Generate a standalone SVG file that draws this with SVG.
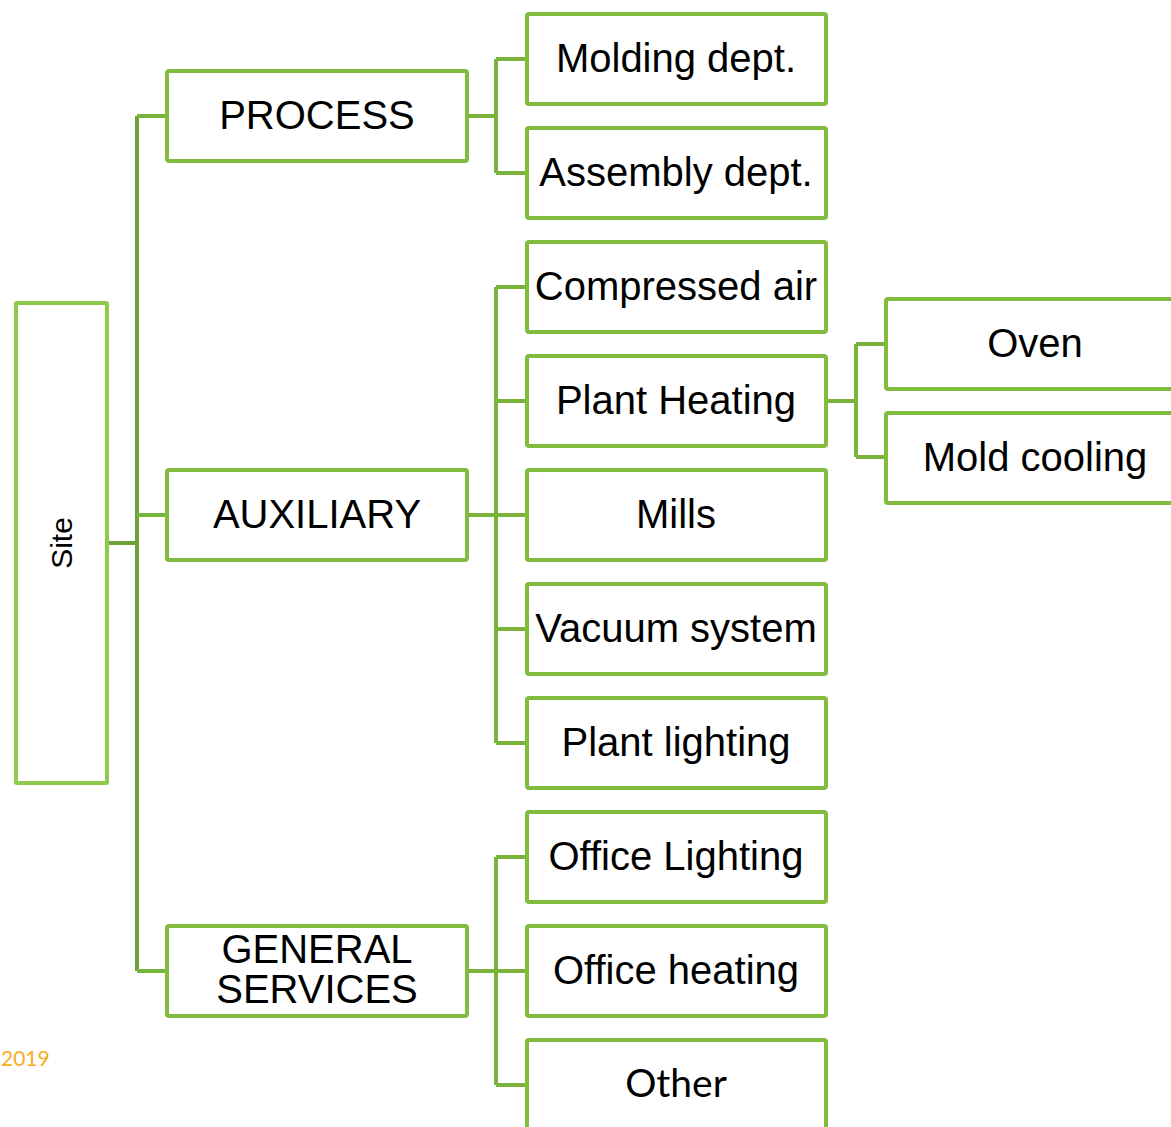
<svg xmlns="http://www.w3.org/2000/svg" width="1171" height="1127" viewBox="0 0 1171 1127">
<style>
.box{fill:#fff;stroke:#82BC3F;stroke-width:4}
.site{fill:#fff;stroke:#8FCB4A;stroke-width:4}
.c{fill:none;stroke:#7AB33C;stroke-width:4}
.cd{fill:none;stroke:#6FA236;stroke-width:4}
.t{font-family:"Liberation Sans",Arial,sans-serif;font-size:40px;fill:#000;text-anchor:middle}
.g{font-family:Lato,"Liberation Sans",sans-serif;font-size:39px;fill:#000;text-anchor:middle}
</style>
<rect width="1171" height="1127" fill="#fff"/>
<g id="connectors">
<path class="cd" d="M107 543H137"/>
<path class="cd" d="M137 116V971"/>
<path class="c" d="M137 116H167M137 515H167M137 971H167"/>
<path class="c" d="M467 116H496M496 59V173M496 59H527M496 173H527"/>
<path class="c" d="M467 515H527M496 287V743M496 287H527M496 401H527M496 629H527M496 743H527"/>
<path class="c" d="M467 971H527M496 857V1085M496 857H527M496 1085H527"/>
<path class="c" d="M826 401H856M856 344V457M856 344H886M856 457H886"/>
</g>
<g id="site"><rect class="site" x="16" y="303" width="91" height="480" rx="1"/><text class="t" style="font-size:30px" transform="translate(72 543) rotate(-90)">Site</text></g>
<g id="process"><rect class="box" x="167" y="71" width="300" height="90" rx="2"/><text class="t" x="317" y="129">PROCESS</text></g>
<g id="auxiliary"><rect class="box" x="167" y="470" width="300" height="90" rx="2"/><text class="t" x="317" y="528">AUXILIARY</text></g>
<g id="general"><rect class="box" x="167" y="926" width="300" height="90" rx="2"/><text class="t" x="317" y="963">GENERAL</text><text class="t" x="317" y="1003">SERVICES</text></g>
<g id="molding"><rect class="box" x="527" y="14" width="299" height="90" rx="2"/><text class="t" x="676" y="72">Molding dept.</text></g>
<g id="assembly"><rect class="box" x="527" y="128" width="299" height="90" rx="2"/><text class="t" x="676" y="186">Assembly dept.</text></g>
<g id="compressed"><rect class="box" x="527" y="242" width="299" height="90" rx="2"/><text class="t" x="676" y="300">Compressed air</text></g>
<g id="heating"><rect class="box" x="527" y="356" width="299" height="90" rx="2"/><text class="t" x="676" y="414">Plant Heating</text></g>
<g id="mills"><rect class="box" x="527" y="470" width="299" height="90" rx="2"/><text class="t" x="676" y="528">Mills</text></g>
<g id="vacuum"><rect class="box" x="527" y="584" width="299" height="90" rx="2"/><text class="t" x="676" y="642">Vacuum system</text></g>
<g id="lighting"><rect class="box" x="527" y="698" width="299" height="90" rx="2"/><text class="t" x="676" y="756">Plant lighting</text></g>
<g id="officelighting"><rect class="box" x="527" y="812" width="299" height="90" rx="2"/><text class="t" x="676" y="870">Office Lighting</text></g>
<g id="officeheating"><rect class="box" x="527" y="926" width="299" height="90" rx="2"/><text class="t" x="676" y="984">Office heating</text></g>
<g id="other"><rect class="box" x="527" y="1040" width="299" height="90" rx="2"/><text class="g" x="676" y="1097">Other</text></g>
<g id="oven"><rect class="box" x="886" y="299" width="300" height="90" rx="2"/><text class="t" x="1035" y="357">Oven</text></g>
<g id="moldcooling"><rect class="box" x="886" y="413" width="300" height="90" rx="2"/><text class="t" x="1035" y="471">Mold cooling</text></g>
<text x="1" y="1066" style="font-family:Lato,'Liberation Sans',sans-serif;font-size:21px;fill:#F7AC1E">2019</text>
</svg>
